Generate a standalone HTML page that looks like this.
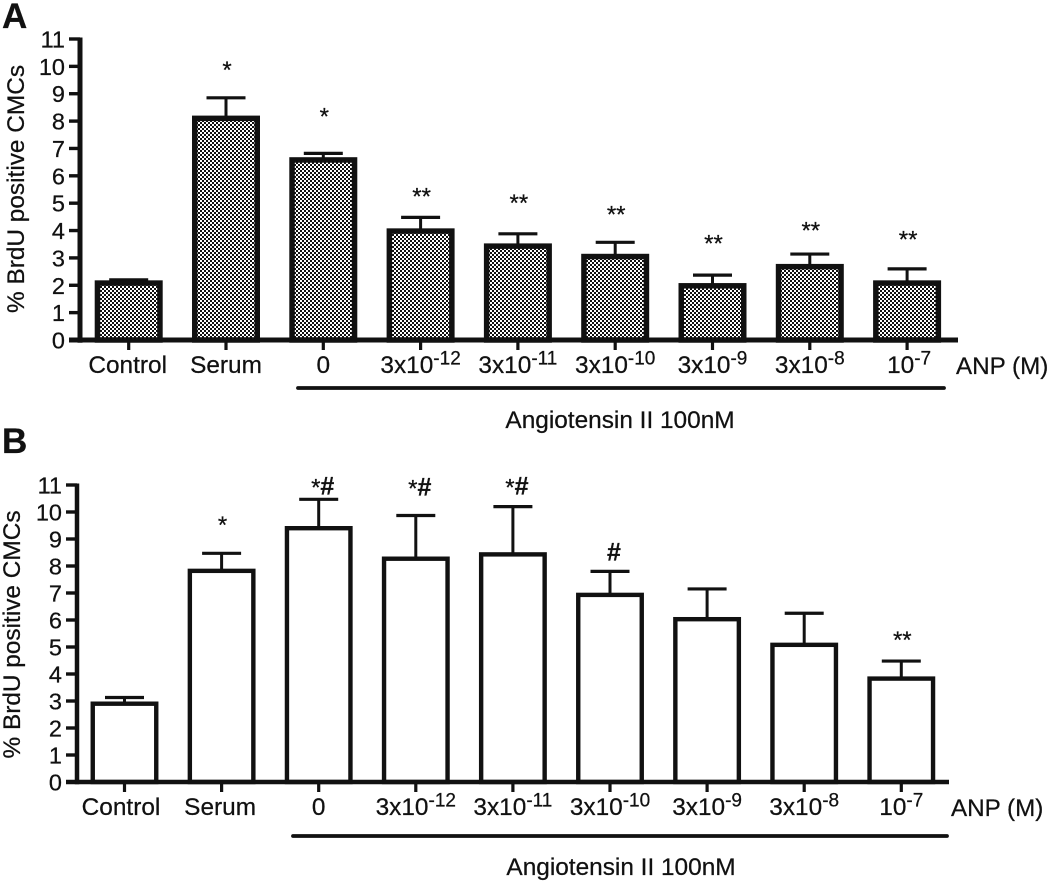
<!DOCTYPE html>
<html lang="en">
<head>
<meta charset="utf-8">
<title>BrdU positive CMCs</title>
<style>
html,body{margin:0;padding:0;background:#fff;}
svg{display:block;}
text{font-family:"Liberation Sans",Arial,sans-serif;fill:#111;stroke:#111;stroke-width:.25px;}
</style>
</head>
<body>
<svg id="chart" xmlns="http://www.w3.org/2000/svg" width="1050" height="883" viewBox="0 0 1050 883">
<defs>
<pattern id="checker" patternUnits="userSpaceOnUse" width="4" height="4" x="0" y="0">
<rect width="4" height="4" fill="#111" shape-rendering="crispEdges"/>
<rect width="2" height="2" fill="#fff" shape-rendering="crispEdges"/>
<rect x="2" y="2" width="2" height="2" fill="#fff" shape-rendering="crispEdges"/>
</pattern>
</defs>
</svg>
<script>
const categories = ['Control','Serum','0','3x10|-12','3x10|-11','3x10|-10','3x10|-9','3x10|-8','10|-7'];
const yTicks = [0,1,2,3,4,5,6,7,8,9,10,11];
const valuesA = [2.08,8.1,6.58,3.98,3.43,3.05,1.98,2.68,2.08];
const errTopA = [2.2,8.85,6.82,4.48,3.88,3.57,2.37,3.14,2.6];
const sigA = ['','*','*','**','**','**','**','**','**'];
const sigLevelA = [0,9.97,8.27,5.35,5.1,4.69,3.63,4.11,3.78];
const valuesB = [2.9,7.82,9.4,8.27,8.43,6.93,6.03,5.08,3.83];
const errTopB = [3.13,8.47,10.47,9.87,10.2,7.8,7.15,6.25,4.48];
const sigB = ['','*','*#','*#','*#','#','','','**'];
const sigLevelB = [0,9.62,11.02,10.97,11.02,8.6,0,0,5.37];

const svg = document.getElementById('chart');
const NS = 'http://www.w3.org/2000/svg';
function mk(tag, attrs, parent){
  const el = document.createElementNS(NS, tag);
  for (const k in attrs) el.setAttribute(k, attrs[k]);
  (parent || svg).appendChild(el);
  return el;
}

function drawPanel(p, values, errTop, sig, sigLevel){
  const g = mk('g', {});
  
  
  const yScale = v => p.y0 - v * (p.y0 - p.y11) / 11;
  const xScale = i => p.x0 + i * p.step;

  const letter = mk('text', {x:p.letterX, y:p.letterY, 'font-size':35, 'font-weight':'bold'}, g);
  letter.textContent = p.id;
  
  

  values.forEach((v,i) => {
    const cx = xScale(i);
    const top = yScale(v);
    const etop = yScale(errTop[i]);
    const stem = mk('line', {x1:cx, x2:cx, y1:top, y2:etop, stroke:'#111', 'stroke-width':3}, g);
    
    
    const cap = mk('line', {x1:cx-19.5, x2:cx+19.5, y1:etop, y2:etop, stroke:'#111', 'stroke-width':3.2}, g);
    
    
    const bar = mk('rect', {x:cx-p.barW/2, y:top, width:p.barW, height:p.y0-top, fill:p.fill, stroke:'#111', 'stroke-width':p.sw}, g);
    
    

    const tick = mk('line', {x1:cx, x2:cx, y1:p.y0, y2:p.y0+10, stroke:'#111', 'stroke-width':3.2}, g);
    
    

    const parts = categories[i].split('|');
    const lab = mk('text', {x:cx+(p.labelShift[i]||0), y:p.labelY, 'font-size':24.4, 'text-anchor':'middle'}, g);
    
    
    lab.appendChild(document.createTextNode(parts[0]));
    if (parts[1]) {
      const sup = mk('tspan', {dy:-8.5, 'font-size':19}, lab);
      sup.textContent = parts[1];
    }

    if (sig[i]) {
      const hasHash = sig[i].includes('#');
      const t = mk('text', {x:cx+(hasHash?4:1), y:yScale(sigLevel[i])+10.8, 'text-anchor':'middle', 'font-size':24}, g);
      
      
      const stars = sig[i].replace('#','');
      if (stars) {
        const s = mk('tspan', {}, t);
        s.textContent = stars;
      }
      if (hasHash) {
        const h = mk('tspan', {'font-size':25, 'font-weight':'bold', dy: stars ? -1 : 0}, t);
        h.textContent = '#';
      }
    }
  });

  const yAxis = mk('line', {x1:p.axisX, x2:p.axisX, y1:p.y11-1.5, y2:p.y0+p.sw/2, stroke:'#111', 'stroke-width':p.axisW}, g);
  
  
  const xAxis = mk('line', {x1:p.axisX-11, x2:p.axisEnd, y1:p.y0, y2:p.y0, stroke:'#111', 'stroke-width':p.axisH}, g);
  
  

  yTicks.forEach(v => {
    const y = yScale(v);
    const t = mk('line', {x1:p.axisX-11, x2:p.axisX, y1:y, y2:y, stroke:'#111', 'stroke-width':3.4}, g);
    
    
    const l = mk('text', {x:p.axisX-15, y:y+8.5, 'font-size':p.yFont, 'text-anchor':'end'}, g);
    l.textContent = v;
    
    
  });

  const title = mk('text', {transform:'translate('+p.titleX+' '+p.titleY+') rotate(-90)', 'font-size':24.4, 'text-anchor':'middle'}, g);
  title.textContent = '% BrdU positive CMCs';
  
  

  const anp = mk('text', {x:p.anpX, y:p.labelY+1, 'font-size':24.2}, g);
  anp.textContent = 'ANP (M)';
  
  

  const rule = mk('line', {x1:p.ruleX1, x2:p.ruleX2, y1:p.ruleY, y2:p.ruleY, stroke:'#111', 'stroke-width':3.8, 'stroke-linecap':'round'}, g);
  
  

  const ang = mk('text', {x:p.angX, y:p.angY, 'font-size':24.4, 'text-anchor':'middle'}, g);
  ang.textContent = 'Angiotensin II 100nM';
  
  
}

drawPanel({id:'A', letterX:2, letterY:28, y0:340, y11:39, x0:128.7, step:97.3, barW:62.5, sw:5.5, fill:'url(#checker)',
  axisX:80, axisW:5, axisH:5, axisEnd:958, yFont:23.5, labelY:373, labelShift:[-1,0,0,0,0,0,0,0,2],
  titleX:24, titleY:189, anpX:956, ruleX1:298, ruleX2:944, ruleY:388, angX:620, angY:428},
  valuesA, errTopA, sigA, sigLevelA);

drawPanel({id:'B', letterX:2, letterY:453, y0:782, y11:485, x0:124.5, step:97.1, barW:63.5, sw:4.4, fill:'#fff',
  axisX:77, axisW:4.5, axisH:4.5, axisEnd:949, yFont:23.5, labelY:815, labelShift:[-3.5,-1.5,0,0,0,0,0,0,0],
  titleX:20, titleY:634.5, anpX:951, ruleX1:293, ruleX2:947, ruleY:836, angX:621, angY:875},
  valuesB, errTopB, sigB, sigLevelB);
</script>
</body>
</html>
